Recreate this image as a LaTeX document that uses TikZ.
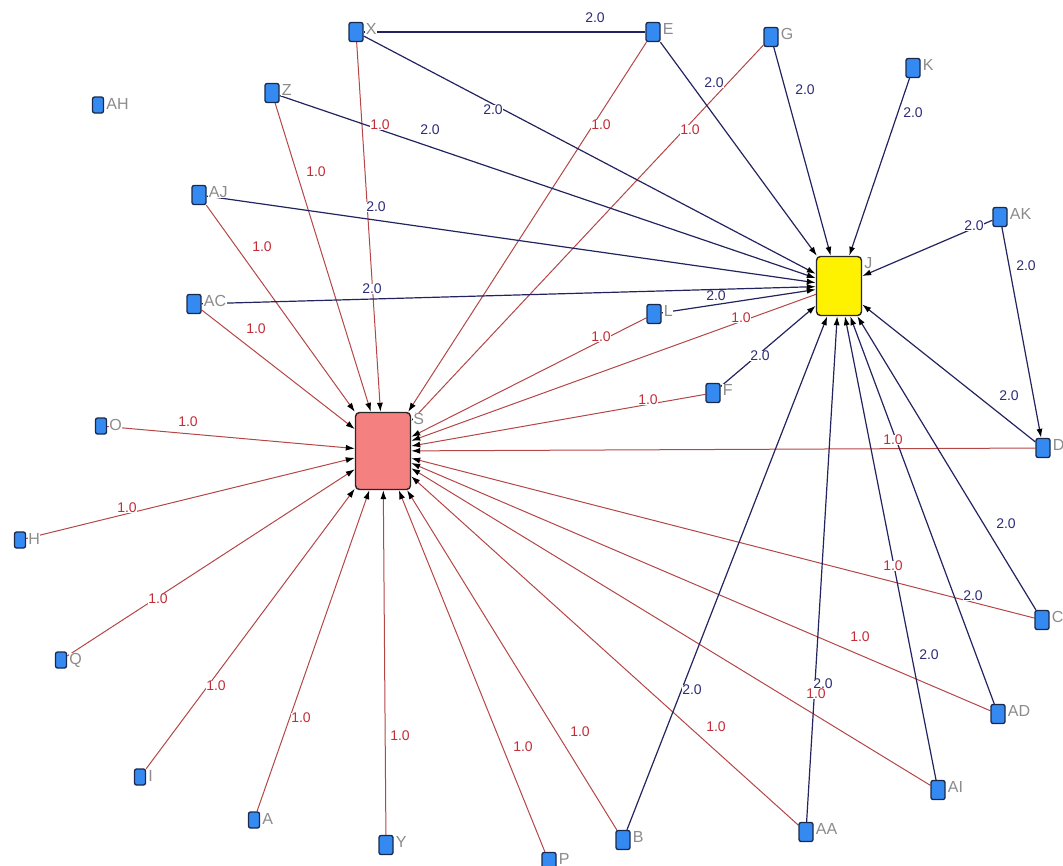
\documentclass[tikz,border=0pt]{standalone}
\usepackage{fontspec}
\setmainfont{Liberation Sans}
\usetikzlibrary{arrows.meta}
\pgfdeclarelayer{edges}
\pgfsetlayers{edges,main}
\definecolor{nodeblue}{RGB}{52,138,240}
\definecolor{nodeedge}{RGB}{25,40,75}
\definecolor{redline}{RGB}{180,70,70}
\definecolor{redtext}{RGB}{195,45,55}
\definecolor{blueline}{RGB}{35,35,95}
\definecolor{bluetext}{RGB}{45,45,120}
\definecolor{lblgray}{RGB}{140,140,140}
\definecolor{sfill}{RGB}{245,128,128}
\begin{document}
\begin{tikzpicture}[x=1pt,y=-1pt,
  vert/.style={draw=nodeedge, line width=1.3pt, fill=nodeblue, rounded corners=2pt,
    minimum width=14pt, minimum height=19pt, inner sep=0pt},
  small/.style={minimum width=11pt, minimum height=16pt},
  nlbl/.style={anchor=north west, inner sep=0.5pt, xshift=1.5pt, yshift=-1pt,
    text=lblgray, fill=white, font=\fontsize{16}{16}\selectfont},
  nl/.style={label={[nlbl]north east:#1}},
  bigbox/.style={draw=black!85, line width=1.4pt, rounded corners=4pt, inner sep=0pt},
  redarr/.style={draw=redline, line width=1pt, -{Latex[length=9pt,width=6pt,color=black]}},
  bluearr/.style={draw=blueline, line width=1.2pt, -{Latex[length=9pt,width=6pt,color=black]}},
  blueplain/.style={draw=blueline, line width=1.2pt},
  rl/.style={text=redtext, fill=white, inner sep=0.5pt, font=\fontsize{14}{14}\selectfont},
  bl/.style={text=bluetext, fill=white, inner sep=0.5pt, font=\fontsize{14}{14}\selectfont}
]
\useasboundingbox (0,0) rectangle (1063,865);

% hubs
\node[bigbox, fill=sfill, minimum width=55pt, minimum height=77pt, nl=S] (S) at (383,451) {};
\node[bigbox, fill=yellow, minimum width=45pt, minimum height=59pt, nl=J] (J) at (839,286) {};

% outer vertices
\node[vert, nl=X]  (X)  at (356,32) {};
\node[vert, nl=E]  (E)  at (653,32) {};
\node[vert, nl=G]  (G)  at (771,37) {};
\node[vert, nl=K]  (K)  at (913,68) {};
\node[vert, small, nl=AH] (AH) at (98,105) {};
\node[vert, nl=Z]  (Z)  at (272,93) {};
\node[vert, nl=AJ] (AJ) at (199,195) {};
\node[vert, nl=AC] (AC) at (194,304) {};
\node[vert, nl=AK] (AK) at (1000,217) {};
\node[vert, nl=L]  (L)  at (654,314) {};
\node[vert, nl=F]  (F)  at (713,393) {};
\node[vert, small, nl=O]  (O)  at (101,426) {};
\node[vert, nl=D]  (D)  at (1043,448) {};
\node[vert, small, nl=H]  (H)  at (20,540) {};
\node[vert, small, nl=Q]  (Q)  at (61,660) {};
\node[vert, nl=C]  (C)  at (1042,620) {};
\node[vert, nl=AD] (AD) at (998,714) {};
\node[vert, small, nl=I]  (I)  at (140,777) {};
\node[vert, small, nl=A]  (A)  at (254,820) {};
\node[vert, nl=AI] (AI) at (938,790) {};
\node[vert, nl=Y]  (Y)  at (386,845) {};
\node[vert, nl=P]  (P)  at (549,862) {};
\node[vert, nl=B]  (B)  at (623,840) {};
\node[vert, nl=AA] (AA) at (806,832) {};

% connectors
\begin{pgfonlayer}{edges}
  % weight 1.0 into S
  \foreach \v in {X,E,G,Z,AJ,AC,L,J,F,O,H,Q,I,A,Y,P,B,AA,AI,AD,C,D}
    \draw[redarr] (\v) -- (S);
  % weight 2.0 into J
  \foreach \v in {X,E,G,K,Z,AJ,AC,L,F,AK,D,C,AD,AI,AA,B}
    \draw[bluearr] (\v) -- (J);
  \draw[bluearr] (AK) -- (D);
  \draw[blueplain] (X) -- (E);
\end{pgfonlayer}

% weights, 2.0
\node[bl] (wXE)  at (595,18)  {2.0};
\node[bl] (wXJ)  at (493,110) {2.0};
\node[bl] (wEJ)  at (714,83)  {2.0};
\node[bl] (wGJ)  at (805,90)  {2.0};
\node[bl] (wKJ)  at (913,113) {2.0};
\node[bl] (wZJ)  at (430,130) {2.0};
\node[bl] (wAJJ) at (376,207) {2.0};
\node[bl] (wACJ) at (372,289) {2.0};
\node[bl] (wLJ)  at (716,296) {2.0};
\node[bl] (wFJ)  at (760,356) {2.0};
\node[bl] (wAKJ) at (974,226) {2.0};
\node[bl] (wAKD) at (1026,266) {2.0};
\node[bl] (wDJ)  at (1009,396) {2.0};
\node[bl] (wCJ)  at (1006,524) {2.0};
\node[bl] (wADJ) at (973,596) {2.0};
\node[bl] (wAIJ) at (929,655) {2.0};
\node[bl] (wAAJ) at (823,684) {2.0};
\node[bl] (wBJ)  at (692,690) {2.0};

% weights, 1.0
\node[rl] (wXS)  at (380,125) {1.0};
\node[rl] (wES)  at (601,125) {1.0};
\node[rl] (wGS)  at (690,130) {1.0};
\node[rl] (wZS)  at (316,172) {1.0};
\node[rl] (wAJS) at (262,247) {1.0};
\node[rl] (wACS) at (256,329) {1.0};
\node[rl] (wLS)  at (601,337) {1.0};
\node[rl] (wJS)  at (741,318) {1.0};
\node[rl] (wFS)  at (648,400) {1.0};
\node[rl] (wOS)  at (188,422) {1.0};
\node[rl] (wHS)  at (127,508) {1.0};
\node[rl] (wQS)  at (158,599) {1.0};
\node[rl] (wIS)  at (216,686) {1.0};
\node[rl] (wAS)  at (301,718) {1.0};
\node[rl] (wYS)  at (400,736) {1.0};
\node[rl] (wPS)  at (523,747) {1.0};
\node[rl] (wBS)  at (580,732) {1.0};
\node[rl] (wAAS) at (716,727) {1.0};
\node[rl] (wAIS) at (816,694) {1.0};
\node[rl] (wADS) at (860,637) {1.0};
\node[rl] (wCS)  at (893,566) {1.0};
\node[rl] (wDS)  at (893,440) {1.0};
\end{tikzpicture}
\end{document}
